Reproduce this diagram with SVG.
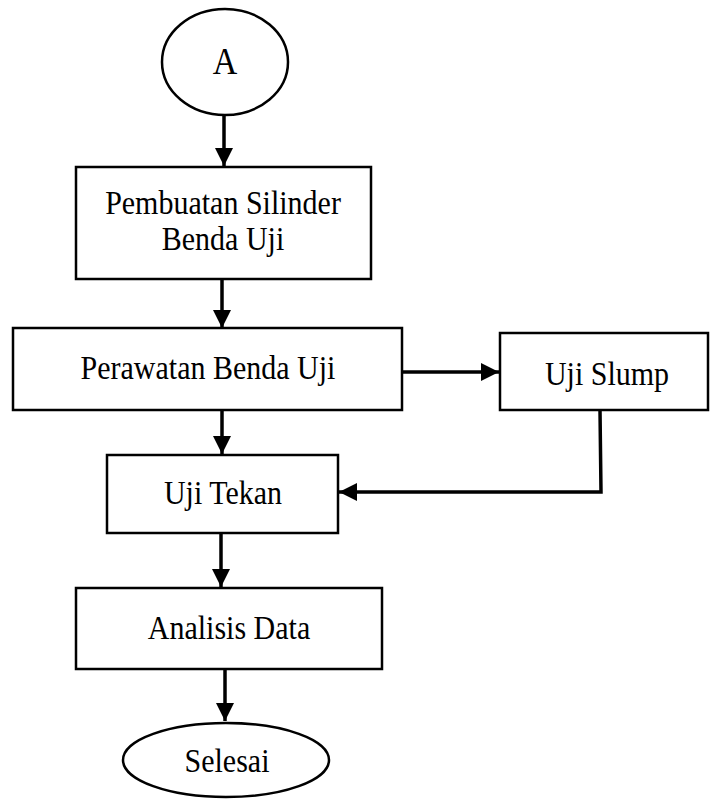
<svg xmlns="http://www.w3.org/2000/svg" width="710" height="799" viewBox="0 0 710 799">
<style>
.box{fill:#fff;stroke:#000;stroke-width:2.5}
.t{font-family:"Liberation Serif","Times New Roman",serif;font-size:30px;fill:#000;text-anchor:middle}
.c{fill:none;stroke:#000;stroke-width:3.5}
</style>
<defs>
<marker id="ah" markerUnits="userSpaceOnUse" markerWidth="18" markerHeight="18" viewBox="0 0 15 15" refX="15" refY="7.5" orient="auto">
<path d="M0,0 L15,7.5 L0,15 Z" fill="#000"/>
</marker>
</defs>
<rect width="710" height="799" fill="#fff"/>
<g id="connectors">
<line class="c" x1="224" y1="115" x2="224" y2="166" marker-end="url(#ah)"/>
<line class="c" x1="222" y1="279" x2="222" y2="328" marker-end="url(#ah)"/>
<line class="c" x1="402" y1="372" x2="499" y2="372" marker-end="url(#ah)"/>
<line class="c" x1="222" y1="410" x2="222" y2="454" marker-end="url(#ah)"/>
<polyline class="c" points="600,410 601,492 339,492" marker-end="url(#ah)"/>
<line class="c" x1="221" y1="533" x2="221" y2="587" marker-end="url(#ah)"/>
<line class="c" x1="225" y1="669" x2="225" y2="721" marker-end="url(#ah)"/>
</g>
<g id="nodeA">
<ellipse class="box" cx="225" cy="62" rx="63" ry="53"/>
<text class="t" transform="translate(225,74) scale(1,1.12)" style="font-size:34px">A</text>
</g>
<g id="pembuatan">
<rect class="box" x="76" y="167" width="295" height="112"/>
<text class="t" transform="translate(223,214) scale(1,1.12)">Pembuatan Silinder</text>
<text class="t" transform="translate(223,250) scale(1,1.12)">Benda Uji</text>
</g>
<g id="perawatan">
<rect class="box" x="13" y="328" width="389" height="82"/>
<text class="t" transform="translate(208,379) scale(1,1.12)">Perawatan Benda Uji</text>
</g>
<g id="slump">
<rect class="box" x="500" y="333" width="208" height="77"/>
<text class="t" transform="translate(607,385) scale(1,1.12)">Uji Slump</text>
</g>
<g id="tekan">
<rect class="box" x="107" y="455" width="231" height="78"/>
<text class="t" transform="translate(223,504) scale(1,1.12)">Uji Tekan</text>
</g>
<g id="analisis">
<rect class="box" x="76" y="588" width="306" height="81"/>
<text class="t" transform="translate(229,639) scale(1,1.12)">Analisis Data</text>
</g>
<g id="selesai">
<ellipse class="box" cx="226" cy="760" rx="103" ry="37"/>
<text class="t" transform="translate(227,772) scale(1,1.12)">Selesai</text>
</g>
</svg>
